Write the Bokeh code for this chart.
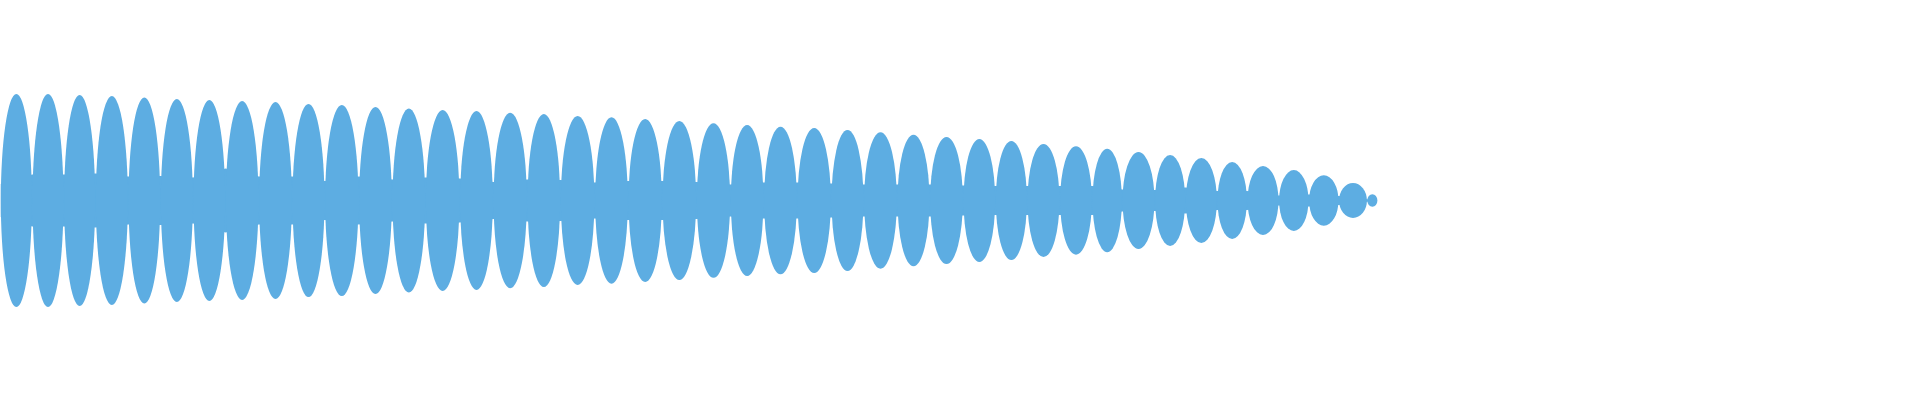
from bokeh.plotting import figure
from bokeh.models import Range1d, ColumnDataSource
from bokeh.embed import file_html
from bokeh.resources import INLINE

# Lobe boundaries (x) and peak amplitudes of the waveform envelope
lobe_edges = [0, 31.7, 63.3, 95, 127.7, 160, 192.7, 225, 258.3, 291.7, 324.3,
              358.3, 391.7, 425, 459.3, 492.7, 526.7, 560, 594.3, 627.7, 661.7,
              696, 730, 763.3, 796.7, 830.7, 863.3, 896.7, 929.3, 962.7, 995,
              1026.7, 1059.3, 1091.7, 1121.7, 1154.3, 1185, 1216.7, 1246.7,
              1278.3, 1308.3, 1338.3, 1366.7, 1377]
lobe_amp = [106.5, 106.5, 105.5, 104.5, 103.2, 101.5, 100.5, 99.5, 98.5, 96.5,
            95.5, 93.5, 92.2, 90.5, 89.5, 87.8, 86.5, 84.5, 83.2, 81.5, 79.5,
            77.5, 75.5, 73.8, 72.5, 70.5, 68.2, 65.8, 63.5, 61.5, 59.5, 56.5,
            54.2, 51.8, 48.5, 45.5, 42.5, 38.5, 34.5, 30.5, 25.2, 17.5, 6.2]
# Residual amplitude at each node between lobes
node_amp = [16.5, 26, 26, 27, 24, 24.5, 23, 32, 24, 24, 19.5, 24, 21, 23, 22,
            18.5, 21, 20.5, 18, 19.5, 19.5, 18.5, 16, 18, 18, 17, 16, 16, 16, 15,
            14.5, 14.5, 14.5, 14.5, 11, 10.5, 13, 9.5, 9.5, 5, 6, 4.5, 1.2, 0]

COLOR = "#5DADE2"
WIDTH_FACTOR = 0.98

centers = [(a + b) / 2 for a, b in zip(lobe_edges[:-1], lobe_edges[1:])]
widths = [(b - a) * WIDTH_FACTOR for a, b in zip(lobe_edges[:-1], lobe_edges[1:])]
heights = [2 * a for a in lobe_amp]

lobes = ColumnDataSource(dict(x=centers, y=[0] * len(centers), w=widths, h=heights))
band = ColumnDataSource(dict(x=lobe_edges, lo=[-v for v in node_amp], hi=node_amp))

p = figure(width=1904, height=384, output_backend="svg", toolbar_location=None,
           x_range=Range1d(0, 1904), y_range=Range1d(-184, 200),
           x_axis_type=None, y_axis_type=None, min_border=0)
p.outline_line_color = None
p.background_fill_color = "white"
p.border_fill_color = "white"

p.varea(x="x", y1="lo", y2="hi", source=band, fill_color=COLOR)
p.ellipse(x="x", y="y", width="w", height="h", source=lobes,
          fill_color=COLOR, line_color=None)

open("out.html", "w").write(file_html(p, INLINE))
